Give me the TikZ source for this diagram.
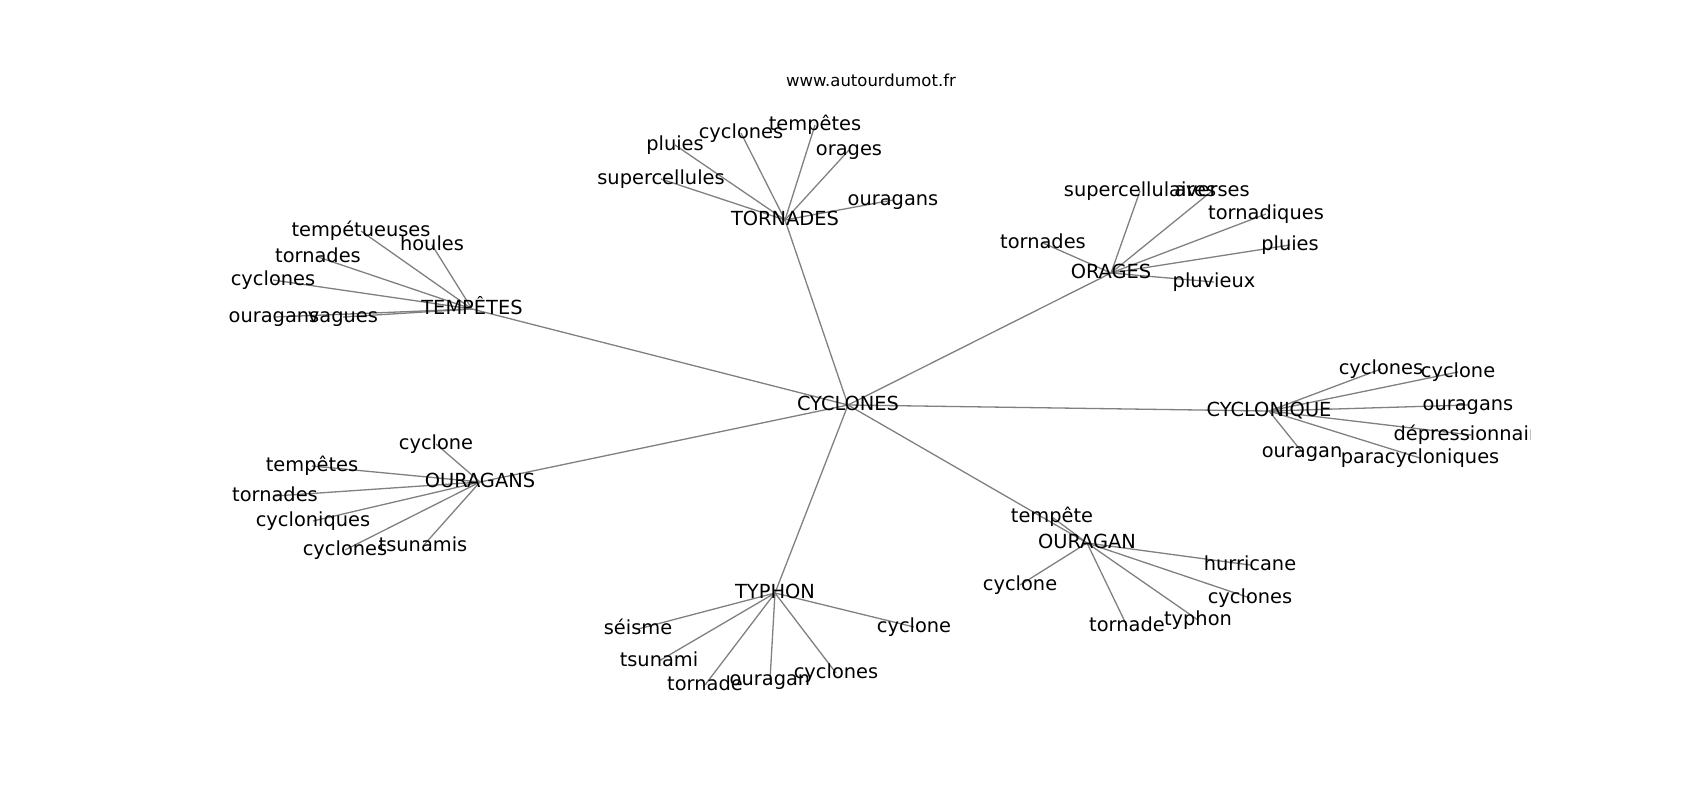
\documentclass[tikz,border=0pt]{standalone}
\usepackage{fontspec}
\setmainfont{DejaVu Sans}
\usetikzlibrary{backgrounds}
\tikzset{
  lbl/.style={inner sep=0pt, text height=14.7pt, text depth=4pt, font=\fontsize{19.4pt}{23pt}\selectfont, text=black},
  edge/.style={draw=black!50, line width=1.3pt},
}
\begin{document}
\begin{tikzpicture}[x=1pt,y=-1pt]
\useasboundingbox (0,0) rectangle (1700,800);
\node[anchor=base, inner sep=0pt, font=\fontsize{16.5pt}{20pt}\selectfont] (title) at (871,87) {www.autourdumot.fr};
\begin{scope}
\clip (212.5,96) rectangle (1530,712);
% centre
\node[lbl] (c) at (848,405) {CYCLONES};
% TORNADES
\node[lbl] (t) at (785,220) {TORNADES};
\node[lbl] (t1) at (661,179) {supercellules};
\node[lbl] (t2) at (675,145) {pluies};
\node[lbl] (t3) at (741,133) {cyclones};
\node[lbl] (t4) at (815,125) {tempêtes};
\node[lbl] (t5) at (849,150) {orages};
\node[lbl] (t6) at (893,200) {ouragans};
% ORAGES
\node[lbl] (o) at (1111,273) {ORAGES};
\node[lbl] (o1) at (1140,191) {supercellulaires};
\node[lbl] (o2) at (1212,191) {averses};
\node[lbl] (o3) at (1266,214) {tornadiques};
\node[lbl] (o4) at (1290,245) {pluies};
\node[lbl] (o5) at (1214,282) {pluvieux};
\node[lbl] (o6) at (1043,243) {tornades};
% TEMPETES
\node[lbl] (p) at (472,309) {TEMPÊTES};
\node[lbl] (p1) at (361,231) {tempétueuses};
\node[lbl] (p2) at (432,245) {houles};
\node[lbl] (p3) at (318,257) {tornades};
\node[lbl] (p4) at (273,280) {cyclones};
\node[lbl] (p5) at (274,317) {ouragans};
\node[lbl] (p6) at (343,317) {vagues};
% CYCLONIQUE
\node[lbl] (q) at (1269,411) {CYCLONIQUE};
\node[lbl] (q1) at (1381,369) {cyclones};
\node[lbl] (q2) at (1458,372) {cyclone};
\node[lbl] (q3) at (1468,405) {ouragans};
\node[lbl] (q4) at (1471,435) {dépressionnaire};
\node[lbl] (q5) at (1302,452) {ouragan};
\node[lbl] (q6) at (1420,458) {paracycloniques};
% OURAGANS
\node[lbl] (s) at (480,482) {OURAGANS};
\node[lbl] (s1) at (436,444) {cyclone};
\node[lbl] (s2) at (312,466) {tempêtes};
\node[lbl] (s3) at (275,496) {tornades};
\node[lbl] (s4) at (313,521) {cycloniques};
\node[lbl] (s5) at (345,550) {cyclones};
\node[lbl] (s6) at (423,546) {tsunamis};
% TYPHON
\node[lbl] (y) at (775,593) {TYPHON};
\node[lbl] (y1) at (638,629) {séisme};
\node[lbl] (y2) at (659,661) {tsunami};
\node[lbl] (y3) at (705,685) {tornade};
\node[lbl] (y4) at (770,680) {ouragan};
\node[lbl] (y5) at (836,673) {cyclones};
\node[lbl] (y6) at (914,627) {cyclone};
% OURAGAN
\node[lbl] (u) at (1087,543) {OURAGAN};
\node[lbl] (u1) at (1052,517) {tempête};
\node[lbl] (u2) at (1250,565) {hurricane};
\node[lbl] (u3) at (1020,585) {cyclone};
\node[lbl] (u4) at (1250,598) {cyclones};
\node[lbl] (u5) at (1127,626) {tornade};
\node[lbl] (u6) at (1198,620) {typhon};
\end{scope}
\begin{pgfonlayer}{background}
\foreach \h in {t,o,p,q,s,y,u}{
  \draw[edge] (c.center) -- (\h.center);
  \foreach \i in {1,...,6}{
    \draw[edge] (\h.center) -- (\h\i.center);
  }
}
\end{pgfonlayer}
\end{tikzpicture}
\end{document}
